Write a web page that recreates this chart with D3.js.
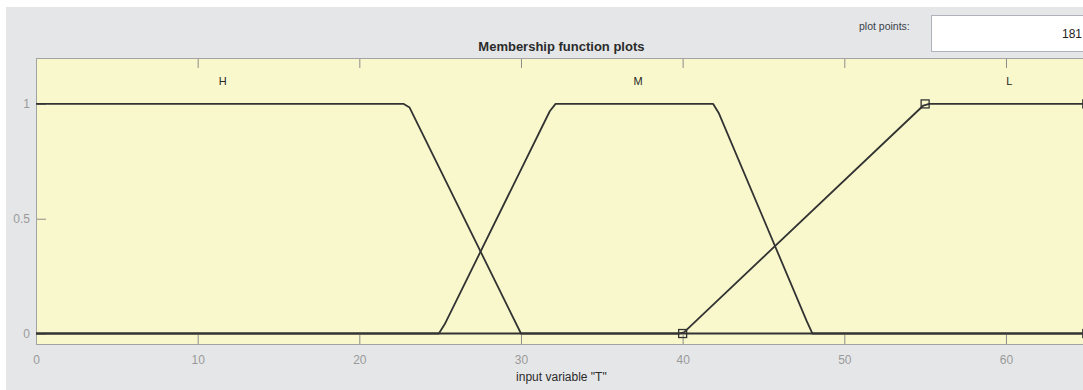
<!DOCTYPE html>
<html>
<head>
<meta charset="utf-8">
<script src="https://cdn.jsdelivr.net/npm/d3@7"></script>
<style>
  html, body { margin: 0; padding: 0; background: #ffffff; }
  svg { display: block; font-family: "Liberation Sans", Arial, Helvetica, sans-serif; }
</style>
</head>
<body>
<svg id="chart" width="1083" height="390"></svg>
<script>
// ---- data ----
const xDomain = [0, 65];
const yDomain = [-0.05, 1.2];
const xTickValues = [0, 10, 20, 30, 40, 50, 60];
const yTickValues = [0, 0.5, 1];
const mfNames = ["H", "M", "L"];
const mfLabelX = [11.55, 37.25, 60.2];
const mfLabelY = 1.1;
const hX = [0, 22.75, 23.11, 30, 65];
const hY = [1, 1, 0.984, 0, 0];
const mX = [0, 24.92, 25.28, 31.78, 32.14, 41.89, 42.25, 47.67, 48.03, 65];
const mY = [0, 0, 0.04, 0.968, 1, 1, 0.958, 0.055, 0, 0];
const lX = [0, 39.72, 40.08, 54.89, 55.25, 65];
const lY = [0, 0, 0.005, 0.993, 1, 1];
// selected MF (L) parameter markers
const markerX = [40, 55, 65, 65];
const markerY = [0, 1, 1, 0];
const titleText = "Membership function plots";
const xLabelText = 'input variable "T"';
const plotPointsLabel = "plot points:";
const plotPointsValue = "181";

// ---- layout ----
const svg = d3.select("#chart");
const W = 1083, H = 390;
const plot = { left: 36, top: 58, right: 36 + 65 * 16.166, bottom: 345 };

svg.append("rect").attr("x", 0).attr("y", 0).attr("width", W).attr("height", H).attr("fill", "#ffffff");
svg.append("rect").attr("x", 6).attr("y", 7).attr("width", W - 6).attr("height", H - 7).attr("fill", "#e5e6e8");

const x = d3.scaleLinear().domain(xDomain).range([plot.left, plot.right]);
const y = d3.scaleLinear().domain(yDomain).range([plot.bottom, plot.top]);

// plot background
svg.append("rect")
  .attr("x", plot.left).attr("y", plot.top)
  .attr("width", plot.right - plot.left).attr("height", plot.bottom - plot.top)
  .attr("fill", "#f9f8cc");

svg.append("defs").append("clipPath").attr("id", "clip")
  .append("rect")
  .attr("x", plot.left - 6).attr("y", plot.top - 6)
  .attr("width", plot.right - plot.left + 12).attr("height", plot.bottom - plot.top + 12);

// axes
const tickColor = "#8c8c8c";
const labelColor = "#9a9a9a";

const xAxisB = d3.axisBottom(x).tickValues(xTickValues).tickSizeInner(-10).tickSizeOuter(0).tickPadding(10).tickFormat(d3.format("d"));
const gxb = svg.append("g").attr("transform", `translate(0,${plot.bottom})`).call(xAxisB);
const xAxisT = d3.axisTop(x).tickValues(xTickValues).tickSizeInner(-10).tickSizeOuter(0).tickFormat("");
const gxt = svg.append("g").attr("transform", `translate(0,${plot.top})`).call(xAxisT);
const yAxisL = d3.axisLeft(y).tickValues(yTickValues).tickSizeInner(-10).tickSizeOuter(0).tickPadding(6).tickFormat(d => d === 0.5 ? "0.5" : d3.format("d")(d));
const gyl = svg.append("g").attr("transform", `translate(${plot.left},0)`).call(yAxisL);

[gxb, gxt, gyl].forEach(g => {
  g.select(".domain").remove();
  g.selectAll(".tick line").attr("stroke", tickColor).attr("stroke-width", 1);
  g.selectAll(".tick text").attr("fill", labelColor).attr("font-size", 12)
    .attr("font-family", '"Liberation Sans", Arial, sans-serif');
});

// border
svg.append("rect")
  .attr("x", plot.left + 0.5).attr("y", plot.top + 0.5)
  .attr("width", plot.right - plot.left).attr("height", plot.bottom - plot.top - 1)
  .attr("fill", "none").attr("stroke", "#a3a3a3").attr("stroke-width", 1);

// membership function lines
const series = [
  { name: "H", xs: hX, ys: hY },
  { name: "M", xs: mX, ys: mY },
  { name: "L", xs: lX, ys: lY }
];
const line = d3.line().x(d => x(d[0])).y(d => y(d[1]));
const content = svg.append("g").attr("clip-path", "url(#clip)");
series.forEach(s => {
  const pts = s.xs.map((v, i) => [v, s.ys[i]]);
  content.append("path").datum(pts)
    .attr("d", line)
    .attr("fill", "none")
    .attr("stroke", "#333333")
    .attr("stroke-width", 1.8)
    .attr("stroke-linejoin", "round");
});

// markers
content.selectAll("rect.marker")
  .data(markerX.map((v, i) => [v, markerY[i]]))
  .join("rect").attr("class", "marker")
  .attr("x", d => x(d[0]) - 4).attr("y", d => y(d[1]) - 4)
  .attr("width", 8).attr("height", 8)
  .attr("fill", "none").attr("stroke", "#333333").attr("stroke-width", 1.3);

// MF labels
svg.selectAll("text.mf")
  .data(mfNames)
  .join("text").attr("class", "mf")
  .attr("x", (d, i) => x(mfLabelX[i]))
  .attr("y", y(mfLabelY))
  .attr("dy", "0.36em")
  .attr("text-anchor", "middle")
  .attr("font-size", 11)
  .attr("fill", "#262626")
  .text(d => d);

// title
svg.append("text")
  .attr("x", (plot.left + plot.right) / 2).attr("y", 51)
  .attr("text-anchor", "middle")
  .attr("font-size", 13).attr("font-weight", "bold")
  .attr("fill", "#2b2b2b")
  .text(titleText);

// x label
svg.append("text")
  .attr("x", (plot.left + plot.right) / 2).attr("y", 381)
  .attr("text-anchor", "middle")
  .attr("font-size", 12)
  .attr("fill", "#2b2b2b")
  .text(xLabelText);

// plot points control
svg.append("text")
  .attr("x", 859).attr("y", 30)
  .attr("font-size", 10.5)
  .attr("fill", "#3a3f4a")
  .text(plotPointsLabel);
svg.append("rect")
  .attr("x", 931.5).attr("y", 15.5).attr("width", 170).attr("height", 36)
  .attr("fill", "#ffffff").attr("stroke", "#aeb2ba").attr("stroke-width", 1);
svg.append("text")
  .attr("x", 1082).attr("y", 38)
  .attr("text-anchor", "end")
  .attr("font-size", 12)
  .attr("fill", "#222222")
  .text(plotPointsValue);
</script>
</body>
</html>
